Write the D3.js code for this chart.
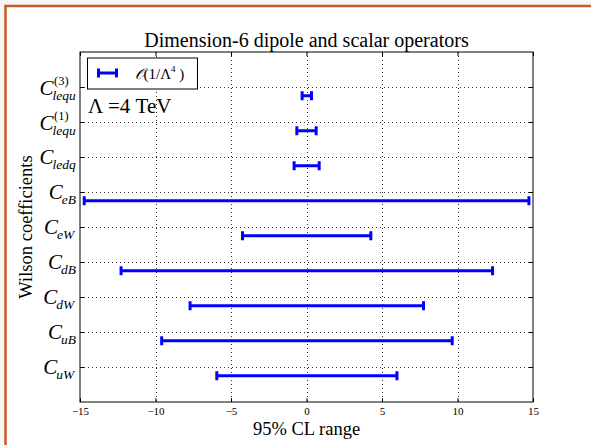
<!DOCTYPE html>
<html>
<head>
<meta charset="utf-8">
<script src="https://cdn.jsdelivr.net/npm/d3@7"></script>
<style>
  html, body { margin: 0; padding: 0; background: #f6f6f6; }
  svg { display: block; }
  text { font-family: "Liberation Serif", "Times New Roman", serif; fill: #000; }
</style>
</head>
<body>
<script>
// ** Data
const coeffBase = ["C", "C", "C", "C", "C", "C", "C", "C", "C"];
const coeffSub = ["lequ", "lequ", "ledq", "eB", "eW", "dB", "dW", "uB", "uW"];
const coeffSup = ["(3)", "(1)", "", "", "", "", "", "", ""];
const lower = [-0.29, -0.64, -0.82, -14.72, -4.24, -12.28, -7.71, -9.59, -5.94];
const upper = [0.33, 0.64, 0.84, 14.73, 4.26, 12.32, 7.75, 9.65, 5.99];
const xTicks = [-15, -10, -5, 0, 5, 10, 15];

// ** Layout
const W = 591, H = 445;
const margin = { top: 52, right: 58, bottom: 43, left: 80 };
const iw = W - margin.left - margin.right;
const ih = H - margin.top - margin.bottom;
const blue = "#0000ff";
const serif = "Liberation Serif, Times New Roman, serif";

const svg = d3.select("body").append("svg").attr("width", W).attr("height", H);

// page frame (white sheet with orange edge)
svg.append("rect").attr("x", 5.5).attr("y", 6).attr("width", W + 10).attr("height", H + 10)
  .attr("fill", "#fff").attr("stroke", "#c85a26").attr("stroke-width", 2.5);

const g = svg.append("g").attr("transform", `translate(${margin.left},${margin.top})`);

const x = d3.scaleLinear().domain([-15, 15]).range([0, iw]);
const y = d3.scaleLinear().domain([0, 10]).range([ih, 0]);
const catPos = coeffSub.map((d, i) => coeffSub.length - i); // 9 .. 1
const barShift = 0.25;

// grid
const grid = g.append("g").attr("stroke", "#333").attr("stroke-width", 1)
  .attr("stroke-dasharray", "1,3");
grid.selectAll(".gx").data(xTicks.slice(1, -1)).join("line")
  .attr("x1", d => Math.round(x(d)) + 0.5).attr("x2", d => Math.round(x(d)) + 0.5)
  .attr("y1", 0).attr("y2", ih);
grid.selectAll(".gy").data(catPos).join("line")
  .attr("x1", 0).attr("x2", iw)
  .attr("y1", d => Math.round(y(d)) + 0.5).attr("y2", d => Math.round(y(d)) + 0.5);

// axes (inward ticks)
const fmt = d3.format("d");
const xAxis = g.append("g").attr("transform", `translate(0,${ih})`)
  .call(d3.axisBottom(x).tickValues(xTicks).tickFormat(fmt).tickSizeInner(-4).tickSizeOuter(0).tickPadding(5));
g.append("g").call(d3.axisTop(x).tickValues(xTicks).tickFormat("").tickSizeInner(-4).tickSizeOuter(0));
g.append("g")
  .call(d3.axisLeft(y).tickValues(catPos).tickFormat("").tickSizeInner(-4).tickSizeOuter(0));
g.append("g").attr("transform", `translate(${iw},0)`)
  .call(d3.axisRight(y).tickValues(catPos).tickFormat("").tickSizeInner(-4).tickSizeOuter(0));
g.selectAll(".domain").remove();
g.selectAll(".tick line").attr("stroke", "#000");
xAxis.selectAll("text").attr("font-size", 11).attr("font-family", serif);

// box
g.append("rect").attr("width", iw).attr("height", ih)
  .attr("fill", "none").attr("stroke", "#000").attr("stroke-width", 1);

// y tick labels: C with stacked sub/superscript
coeffSub.forEach((sub, i) => {
  const lab = g.append("g");
  const c = lab.append("text").attr("font-size", 21).attr("font-style", "italic")
    .attr("font-family", serif).text(coeffBase[i]);
  const cw = c.node().getComputedTextLength();
  lab.append("text").attr("x", cw - 1).attr("y", 5).attr("font-size", 13.5)
    .attr("font-style", "italic").attr("font-family", serif).text(sub);
  if (coeffSup[i]) {
    lab.append("text").attr("x", cw + 0.5).attr("y", -10).attr("font-size", 12.5)
      .attr("font-family", serif).text(coeffSup[i]);
  }
  const bb = lab.node().getBBox();
  const ty = y(catPos[i]);
  lab.attr("transform", `translate(${-4 - (bb.x + bb.width)},${ty - (bb.y + bb.height / 2) + 1})`);
});

// error bars
const bars = g.append("g").attr("stroke", blue).attr("stroke-width", 3).attr("fill", "none");
const capH = 4.5;
coeffSub.forEach((s, i) => {
  const yy = y(catPos[i] - barShift);
  const bg = bars.append("g");
  bg.append("line").attr("x1", x(lower[i])).attr("x2", x(upper[i])).attr("y1", yy).attr("y2", yy);
  bg.append("line").attr("x1", x(lower[i])).attr("x2", x(lower[i])).attr("y1", yy - capH).attr("y2", yy + capH);
  bg.append("line").attr("x1", x(upper[i])).attr("x2", x(upper[i])).attr("y1", yy - capH).attr("y2", yy + capH);
});

// legend
const leg = g.append("g").attr("transform", "translate(7.5,6)");
leg.append("rect").attr("width", 110).attr("height", 31).attr("fill", "#fff")
  .attr("stroke", "#000").attr("stroke-width", 1);
const ls = leg.append("g").attr("stroke", blue).attr("stroke-width", 3);
ls.append("line").attr("x1", 11).attr("x2", 29).attr("y1", 15).attr("y2", 15);
ls.append("line").attr("x1", 11).attr("x2", 11).attr("y1", 10.5).attr("y2", 19.5);
ls.append("line").attr("x1", 29).attr("x2", 29).attr("y1", 10.5).attr("y2", 19.5);
const lt = leg.append("text").attr("x", 47).attr("y", 21).attr("font-size", 15).attr("font-family", serif);
lt.append("tspan").attr("font-family", "DejaVu Serif, serif").attr("font-style", "italic").text("𝒪");
lt.append("tspan").text("(1/Λ");
lt.append("tspan").attr("font-size", 9).attr("dy", -7).text("4");
lt.append("tspan").attr("dy", 7).text(" )");

g.append("text").attr("x", 8).attr("y", 61).attr("font-size", 21).attr("font-family", serif)
  .attr("xml:space", "preserve").text("Λ =4 TeV");

// title and axis labels
svg.append("text").attr("x", margin.left + iw / 2).attr("y", 47).attr("text-anchor", "middle")
  .attr("font-size", 20).attr("font-family", serif).text("Dimension-6 dipole and scalar operators");
svg.append("text").attr("x", margin.left + iw / 2).attr("y", 435).attr("text-anchor", "middle")
  .attr("font-size", 18.5).attr("font-family", serif).text("95% CL range");
svg.append("text").attr("transform", `translate(32,${margin.top + ih / 2}) rotate(-90)`)
  .attr("text-anchor", "middle").attr("font-size", 18.5).attr("font-family", serif).text("Wilson coefficients");
</script>
</body>
</html>
